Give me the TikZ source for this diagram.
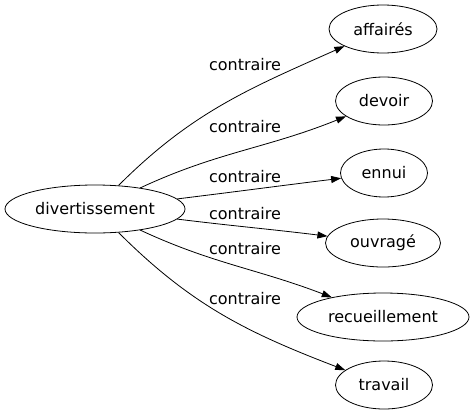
\documentclass[tikz,border=0pt]{standalone}
\usepackage{fontspec}
\setmainfont{DejaVu Sans}
\usetikzlibrary{arrows.meta,shapes.geometric}

\begin{document}
\begin{tikzpicture}
  [x=1bp,y=1bp,line width=.8bp,
   every node/.style={font=\fontsize{16bp}{19bp}\selectfont},
   word/.style={draw,ellipse,inner sep=0pt,minimum height=48bp},
   rel/.style={-{Triangle[length=10bp,width=7bp]}}]
  \useasboundingbox (0,0) rectangle (474,419);
  \node[word,minimum width=180bp] (n0) at (95,210) {divertissement};
  \node[word,minimum width=108bp] (n1) at (383,390) {affairés};
  \node[word,minimum width=97bp]  (n2) at (384,318) {devoir};
  \node[word,minimum width=87bp]  (n3) at (384,246) {ennui};
  \node[word,minimum width=115bp] (n4) at (383,176) {ouvragé};
  \node[word,minimum width=172bp] (n5) at (383,102) {recueillement};
  \node[word,minimum width=97bp]  (n6) at (384,34)  {travail};

\foreach \to/\o/\i/\y in
{n1/45/-156/354, n2/25/-158/292, n3/7/-173/242, n4/-7/173/205, n5/-25/159/170, n6/-45/159/120}
  {
    \draw[rel] (n0) to[out=\o,in=\i] (\to);
    \node (l\to) at (245,\y) {contraire};
  }
\end{tikzpicture}
\end{document}
